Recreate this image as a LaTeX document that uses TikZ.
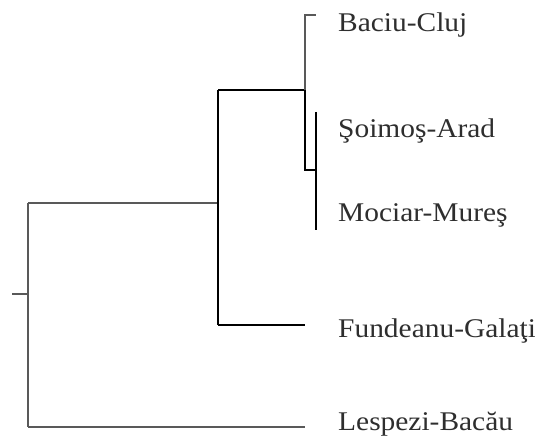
\documentclass[tikz,border=0pt]{standalone}
\usepackage{fontspec}
\setmainfont{Liberation Serif}[FakeStretch=1.09]
\begin{document}
\begin{tikzpicture}[x=1pt,y=-1pt,
  lbl/.style={anchor=base west,inner sep=0pt,font=\fontsize{27}{32}\selectfont,text=black!82},
  thin/.style={draw=black!65,line width=1.3pt},
  thick/.style={draw=black,line width=2pt}]
\useasboundingbox[fill=white] (0,0) rectangle (535,446);
% internal nodes
\coordinate (root) at (28,294);
\coordinate (rs) at (12,294);
\coordinate (rt) at (28,203);
\coordinate (rb) at (28,427);
\coordinate (n1) at (218,203);
\coordinate (n1t) at (218,90);
\coordinate (n1b) at (218,325);
\coordinate (n2) at (305,90);
\coordinate (n2t) at (305,15);
\coordinate (n2b) at (305,170);
\coordinate (n3) at (316,170);
% tips
\coordinate (tBaciu) at (316,15);
\coordinate (tSoimos) at (316,112);
\coordinate (tMociar) at (316,230);
\coordinate (tFund) at (305,325);
\coordinate (tLesp) at (305,427);
% labels
\node[lbl] (lBaciu) at (338,32) {Baciu-Cluj};
\node[lbl] (lSoimos) at (338,138) {Şoimoş-Arad};
\node[lbl] (lMociar) at (338,222) {Mociar-Mureş};
\node[lbl] (lFund) at (338,337) {Fundeanu-Galaţi};
\node[lbl] (lLesp) at (338,430) {Lespezi-Bacău};
% root
\draw[thin] (rs) -- (root);
\draw[thin] (rt) -- (rb);
\draw[thin] (rt) -- (n1);
\draw[thin] (rb) -- (tLesp);
% clade n1
\draw[thick] (n1t) -- (n1b);
\draw[thick] (n1t) -- (n2);
\draw[thick] (n1b) -- (tFund);
% clade n2
\draw[thin] (n2) -- (n2t) -- (tBaciu);
\draw[thick] (n2) -- (n2b) -- (n3);
% clade n3
\draw[thick] (tSoimos) -- (tMociar);
\end{tikzpicture}
\end{document}
